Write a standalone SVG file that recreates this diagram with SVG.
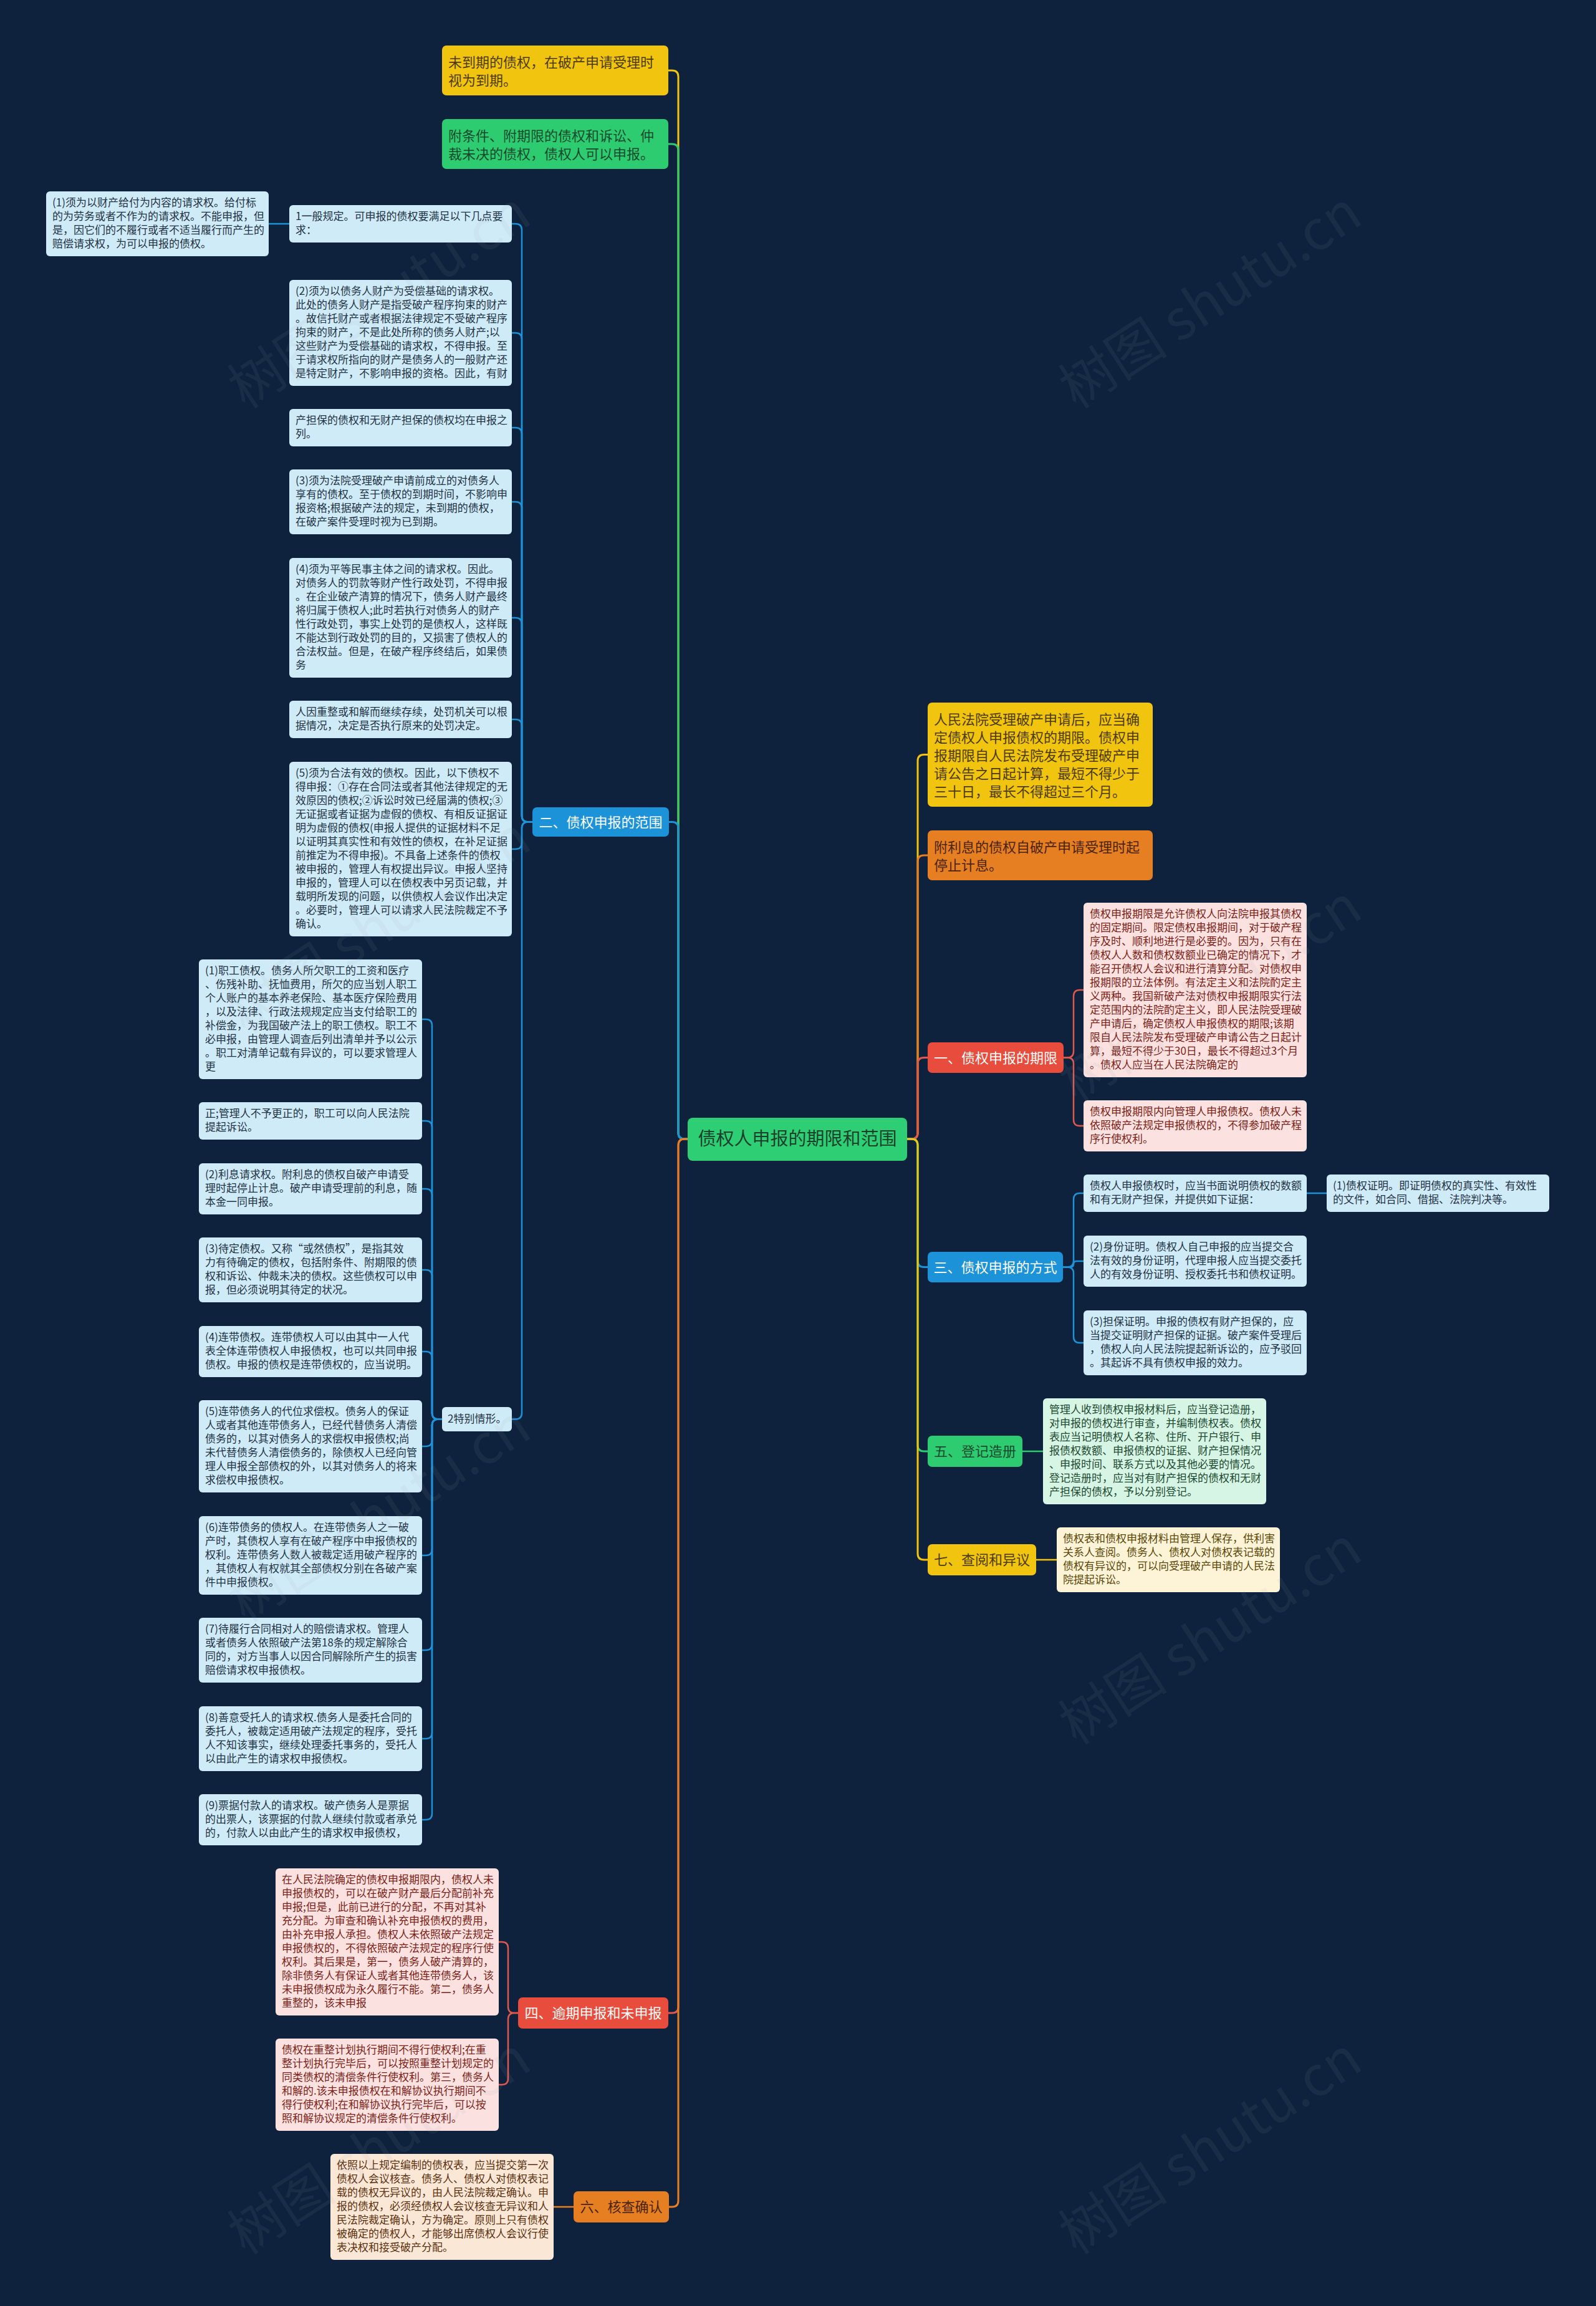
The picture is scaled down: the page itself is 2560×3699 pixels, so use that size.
<svg xmlns="http://www.w3.org/2000/svg" width="2560" height="3699" viewBox="0 0 2560 3699">
<style>
text{font-family:"Noto Sans CJK SC","Noto Sans",sans-serif}
.t17{font-size:17px}
.t22{font-size:22px}
.c{fill:none;stroke-width:3;stroke-linecap:round;stroke-linejoin:round}
.s{fill:none;stroke-width:2.5;stroke-linecap:round;stroke-linejoin:round}
.cy{stroke:#f1c40f}.cg{stroke:#2ecc71}.cb{stroke:#1c93d8}.cr{stroke:#e0584b}.co{stroke:#e67e22}
.lb{fill:#d0ebf8}.tb{fill:#1f3344}
.lp{fill:#fbe2e0}.tp{fill:#7b1f18}
.lm{fill:#d7f5e5}.tm{fill:#1d4a31}
.lc{fill:#fdf3d7}.tc{fill:#5a4708}
.le{fill:#fbe7d6}.te{fill:#5b3210}
.ny{fill:#f1c40f}.tny{fill:#4d3b06}
.ng{fill:#2ecc71}.tng{fill:#174a2c}
.nb{fill:#1c93d8}.nr{fill:#e74c3c}.tw{fill:#ffffff}
.no{fill:#e67e22}.tno{fill:#4a2408}
.wm{font-size:88px;fill:#9aa3ad;fill-opacity:0.09}
</style>
<rect width="2560" height="3699" fill="#0e213d"/>

<g id="connectors">
<path class="c cy" d="M1103,1827 H1098 Q1088,1827 1088,1817 V123 Q1088,113 1078,113 H1072"/>
<path class="c cg" d="M1103,1827 H1098 Q1088,1827 1088,1817 V241 Q1088,231 1078,231 H1072"/>
<path class="c cb" d="M1103,1827 H1098 Q1088,1827 1088,1817 V1328.5 Q1088,1318.5 1078,1318.5 H1073"/>
<path class="c cr" d="M1103,1827 H1098 Q1088,1827 1088,1837 V3219 Q1088,3229 1078,3229 H1072"/>
<path class="c co" d="M1103,1827 H1098 Q1088,1827 1088,1837 V3530 Q1088,3540 1078,3540 H1073"/>

<path class="c cy" d="M1455,1827 H1462 Q1472,1827 1472,1817 V1220.5 Q1472,1210.5 1482,1210.5 H1488"/>
<path class="c co" d="M1455,1827 H1462 Q1472,1827 1472,1817 V1382 Q1472,1372 1482,1372 H1488"/>
<path class="c cr" d="M1455,1827 H1462 Q1472,1827 1472,1817 V1706.5 Q1472,1696.5 1482,1696.5 H1488"/>
<path class="c cb" d="M1455,1827 H1462 Q1472,1827 1472,1837 V2022.5 Q1472,2032.5 1482,2032.5 H1488"/>
<path class="c cg" d="M1455,1827 H1462 Q1472,1827 1472,1837 V2318 Q1472,2328 1482,2328 H1488"/>
<path class="c cy" d="M1455,1827 H1462 Q1472,1827 1472,1837 V2492 Q1472,2502 1482,2502 H1488"/>

<path class="s cb" d="M854,1318.5 H847 Q837,1318.5 837,1308.5 V369 Q837,359 827,359 H821"/>
<path class="s cb" d="M854,1318.5 H847 Q837,1318.5 837,1308.5 V544 Q837,534 827,534 H821"/>
<path class="s cb" d="M854,1318.5 H847 Q837,1318.5 837,1308.5 V696 Q837,686 827,686 H821"/>
<path class="s cb" d="M854,1318.5 H847 Q837,1318.5 837,1308.5 V815 Q837,805 827,805 H821"/>
<path class="s cb" d="M854,1318.5 H847 Q837,1318.5 837,1308.5 V1001 Q837,991 827,991 H821"/>
<path class="s cb" d="M854,1318.5 H847 Q837,1318.5 837,1308.5 V1164 Q837,1154 827,1154 H821"/>
<path class="s cb" d="M854,1318.5 H847 Q837,1318.5 837,1328.5 V1352 Q837,1362 827,1362 H821"/>
<path class="s cb" d="M854,1318.5 H847 Q837,1318.5 837,1328.5 V2266.5 Q837,2276.5 827,2276.5 H821"/>
<path class="s cb" d="M464,359 H431"/>

<path class="s cb" d="M709,2276.5 H703 Q693,2276.5 693,2266.5 V1645 Q693,1635 683,1635 H677"/>
<path class="s cb" d="M709,2276.5 H703 Q693,2276.5 693,2266.5 V1808 Q693,1798 683,1798 H677"/>
<path class="s cb" d="M709,2276.5 H703 Q693,2276.5 693,2266.5 V1917 Q693,1907 683,1907 H677"/>
<path class="s cb" d="M709,2276.5 H703 Q693,2276.5 693,2266.5 V2047 Q693,2037 683,2037 H677"/>
<path class="s cb" d="M709,2276.5 H703 Q693,2276.5 693,2266.5 V2178 Q693,2168 683,2168 H677"/>
<path class="s cb" d="M709,2276.5 H703 Q693,2276.5 693,2286.5 V2310 Q693,2320 683,2320 H677"/>
<path class="s cb" d="M709,2276.5 H703 Q693,2276.5 693,2286.5 V2485 Q693,2495 683,2495 H677"/>
<path class="s cb" d="M709,2276.5 H703 Q693,2276.5 693,2286.5 V2637 Q693,2647 683,2647 H677"/>
<path class="s cb" d="M709,2276.5 H703 Q693,2276.5 693,2286.5 V2779 Q693,2789 683,2789 H677"/>
<path class="s cb" d="M709,2276.5 H703 Q693,2276.5 693,2286.5 V2909 Q693,2919 683,2919 H677"/>

<path class="s cr" d="M831,3229 H825 Q815,3229 815,3219 V3125 Q815,3115 805,3115 H800"/>
<path class="s cr" d="M831,3229 H825 Q815,3229 815,3239 V3334 Q815,3344 805,3344 H800"/>
<path class="s co" d="M920,3540 H888"/>

<path class="s cr" d="M1706,1696.5 H1712 Q1722,1696.5 1722,1686.5 V1598 Q1722,1588 1732,1588 H1738"/>
<path class="s cr" d="M1706,1696.5 H1712 Q1722,1696.5 1722,1706.5 V1796 Q1722,1806 1732,1806 H1738"/>

<path class="s cb" d="M1705,2032.5 H1712 Q1722,2032.5 1722,2022.5 V1924 Q1722,1914 1732,1914 H1738"/>
<path class="s cb" d="M1705,2032.5 H1717 Q1722,2032.5 1722,2027.5 Q1722,2023 1727,2023 H1738"/>
<path class="s cb" d="M1705,2032.5 H1712 Q1722,2032.5 1722,2042.5 V2144 Q1722,2154 1732,2154 H1738"/>
<path class="s cb" d="M2096,1914 H2128"/>
<path class="s cg" d="M1640,2328 H1673"/>
<path class="s cy" d="M1662,2502 H1695"/>
</g>

<g id="root">
<rect x="1103" y="1793" width="352" height="69" rx="8" fill="#2ecf74"/>
<text x="1279" y="1837" font-size="29" fill="#1b3f2b" text-anchor="middle">债权人申报的期限和范围</text>
</g>

<g id="n-top-yellow">
<rect class="ny" x="709" y="73" width="363" height="80" rx="7"/>
<text class="t22 tny"><tspan x="719" y="108">未到期的债权，在破产申请受理时</tspan><tspan x="719" y="137">视为到期。</tspan></text>
</g>
<g id="n-top-green">
<rect class="ng" x="709" y="191" width="363" height="80" rx="7"/>
<text class="t22 tng"><tspan x="719" y="226">附条件、附期限的债权和诉讼、仲</tspan><tspan x="719" y="255">裁未决的债权，债权人可以申报。</tspan></text>
</g>

<g id="n-er">
<rect class="nb" x="854" y="1295" width="219" height="47" rx="7"/>
<text class="t22 tw" x="963.5" y="1326.5" text-anchor="middle">二、债权申报的范围</text>
</g>
<g id="n-si">
<rect class="nr" x="831" y="3204" width="241" height="50" rx="7"/>
<text class="t22 tw" x="951.5" y="3237" text-anchor="middle">四、逾期申报和未申报</text>
</g>
<g id="n-liu">
<rect class="no" x="920" y="3515" width="153" height="50" rx="7"/>
<text class="t22 tno" x="996.5" y="3548" text-anchor="middle">六、核查确认</text>
</g>

<g id="n-general">
<rect class="lb" x="464" y="329" width="357" height="60" rx="6"/>
<text class="t17 tb"><tspan x="474" y="353">1一般规定。可申报的债权要满足以下几点要</tspan><tspan x="474" y="375">求：</tspan></text>
</g>
<g id="n-g1">
<rect class="lb" x="74" y="307" width="357" height="104" rx="6"/>
<text class="t17 tb"><tspan x="84" y="331">(1)须为以财产给付为内容的请求权。给付标</tspan><tspan x="84" y="353">的为劳务或者不作为的请求权。不能申报，但</tspan><tspan x="84" y="375">是，因它们的不履行或者不适当履行而产生的</tspan><tspan x="84" y="397">赔偿请求权，为可以申报的债权。</tspan></text>
</g>
<g id="n-g2">
<rect class="lb" x="464" y="449" width="357" height="170" rx="6"/>
<text class="t17 tb"><tspan x="474" y="473">(2)须为以债务人财产为受偿基础的请求权。</tspan><tspan x="474" y="495">此处的债务人财产是指受破产程序拘束的财产</tspan><tspan x="474" y="517">。故信托财产或者根据法律规定不受破产程序</tspan><tspan x="474" y="539">拘束的财产，不是此处所称的债务人财产;以</tspan><tspan x="474" y="561">这些财产为受偿基础的请求权，不得申报。至</tspan><tspan x="474" y="583">于请求权所指向的财产是债务人的一般财产还</tspan><tspan x="474" y="605">是特定财产，不影响申报的资格。因此，有财</tspan></text>
</g>
<g id="n-g2b">
<rect class="lb" x="464" y="656" width="357" height="60" rx="6"/>
<text class="t17 tb"><tspan x="474" y="680">产担保的债权和无财产担保的债权均在申报之</tspan><tspan x="474" y="702">列。</tspan></text>
</g>
<g id="n-g3">
<rect class="lb" x="464" y="753" width="357" height="104" rx="6"/>
<text class="t17 tb"><tspan x="474" y="777">(3)须为法院受理破产申请前成立的对债务人</tspan><tspan x="474" y="799">享有的债权。至于债权的到期时间，不影响申</tspan><tspan x="474" y="821">报资格;根据破产法的规定，未到期的债权，</tspan><tspan x="474" y="843">在破产案件受理时视为已到期。</tspan></text>
</g>
<g id="n-g4">
<rect class="lb" x="464" y="895" width="357" height="192" rx="6"/>
<text class="t17 tb"><tspan x="474" y="919">(4)须为平等民事主体之间的请求权。因此。</tspan><tspan x="474" y="941">对债务人的罚款等财产性行政处罚，不得申报</tspan><tspan x="474" y="963">。在企业破产清算的情况下，债务人财产最终</tspan><tspan x="474" y="985">将归属于债权人;此时若执行对债务人的财产</tspan><tspan x="474" y="1007">性行政处罚，事实上处罚的是债权人，这样既</tspan><tspan x="474" y="1029">不能达到行政处罚的目的，又损害了债权人的</tspan><tspan x="474" y="1051">合法权益。但是，在破产程序终结后，如果债</tspan><tspan x="474" y="1073">务</tspan></text>
</g>
<g id="n-g4b">
<rect class="lb" x="464" y="1124" width="357" height="60" rx="6"/>
<text class="t17 tb"><tspan x="474" y="1148">人因重整或和解而继续存续，处罚机关可以根</tspan><tspan x="474" y="1170">据情况，决定是否执行原来的处罚决定。</tspan></text>
</g>
<g id="n-g5">
<rect class="lb" x="464" y="1222" width="357" height="280" rx="6"/>
<text class="t17 tb"><tspan x="474" y="1246">(5)须为合法有效的债权。因此，以下债权不</tspan><tspan x="474" y="1268">得申报：①存在合同法或者其他法律规定的无</tspan><tspan x="474" y="1290">效原因的债权;②诉讼时效已经届满的债权;③</tspan><tspan x="474" y="1312">无证据或者证据为虚假的债权、有相反证据证</tspan><tspan x="474" y="1334">明为虚假的债权(申报人提供的证据材料不足</tspan><tspan x="474" y="1356">以证明其真实性和有效性的债权，在补足证据</tspan><tspan x="474" y="1378">前推定为不得申报)。不具备上述条件的债权</tspan><tspan x="474" y="1400">被申报的，管理人有权提出异议。申报人坚持</tspan><tspan x="474" y="1422">申报的，管理人可以在债权表中另页记载，并</tspan><tspan x="474" y="1444">载明所发现的问题，以供债权人会议作出决定</tspan><tspan x="474" y="1466">。必要时，管理人可以请求人民法院裁定不予</tspan><tspan x="474" y="1488">确认。</tspan></text>
</g>

<g id="n-special">
<rect class="lb" x="709" y="2257" width="112" height="39" rx="6"/>
<text class="t17 tb" x="718" y="2282">2特别情形。</text>
</g>
<g id="n-s1">
<rect class="lb" x="319" y="1539" width="358" height="192" rx="6"/>
<text class="t17 tb"><tspan x="329" y="1563">(1)职工债权。债务人所欠职工的工资和医疗</tspan><tspan x="329" y="1585">、伤残补助、抚恤费用，所欠的应当划人职工</tspan><tspan x="329" y="1607">个人账户的基本养老保险、基本医疗保险费用</tspan><tspan x="329" y="1629">，以及法律、行政法规规定应当支付给职工的</tspan><tspan x="329" y="1651">补偿金，为我国破产法上的职工债权。职工不</tspan><tspan x="329" y="1673">必申报，由管理人调查后列出清单并予以公示</tspan><tspan x="329" y="1695">。职工对清单记载有异议的，可以要求管理人</tspan><tspan x="329" y="1717">更</tspan></text>
</g>
<g id="n-s1b">
<rect class="lb" x="319" y="1768" width="358" height="60" rx="6"/>
<text class="t17 tb"><tspan x="329" y="1792">正;管理人不予更正的，职工可以向人民法院</tspan><tspan x="329" y="1814">提起诉讼。</tspan></text>
</g>
<g id="n-s2">
<rect class="lb" x="319" y="1866" width="358" height="82" rx="6"/>
<text class="t17 tb"><tspan x="329" y="1890">(2)利息请求权。附利息的债权自破产申请受</tspan><tspan x="329" y="1912">理时起停止计息。破产申请受理前的利息，随</tspan><tspan x="329" y="1934">本金一同申报。</tspan></text>
</g>
<g id="n-s3">
<rect class="lb" x="319" y="1985" width="358" height="104" rx="6"/>
<text class="t17 tb"><tspan x="329" y="2009">(3)待定债权。又称“或然债权”，是指其效</tspan><tspan x="329" y="2031">力有待确定的债权，包括附条件、附期限的债</tspan><tspan x="329" y="2053">权和诉讼、仲裁未决的债权。这些债权可以申</tspan><tspan x="329" y="2075">报，但必须说明其待定的状况。</tspan></text>
</g>
<g id="n-s4">
<rect class="lb" x="319" y="2127" width="358" height="82" rx="6"/>
<text class="t17 tb"><tspan x="329" y="2151">(4)连带债权。连带债权人可以由其中一人代</tspan><tspan x="329" y="2173">表全体连带债权人申报债权，也可以共同申报</tspan><tspan x="329" y="2195">债权。申报的债权是连带债权的，应当说明。</tspan></text>
</g>
<g id="n-s5">
<rect class="lb" x="319" y="2246" width="358" height="148" rx="6"/>
<text class="t17 tb"><tspan x="329" y="2270">(5)连带债务人的代位求偿权。债务人的保证</tspan><tspan x="329" y="2292">人或者其他连带债务人，已经代替债务人清偿</tspan><tspan x="329" y="2314">债务的，以其对债务人的求偿权申报债权;尚</tspan><tspan x="329" y="2336">未代替债务人清偿债务的，除债权人已经向管</tspan><tspan x="329" y="2358">理人申报全部债权的外，以其对债务人的将来</tspan><tspan x="329" y="2380">求偿权申报债权。</tspan></text>
</g>
<g id="n-s6">
<rect class="lb" x="319" y="2432" width="358" height="126" rx="6"/>
<text class="t17 tb"><tspan x="329" y="2456">(6)连带债务的债权人。在连带债务人之一破</tspan><tspan x="329" y="2478">产时，其债权人享有在破产程序中申报债权的</tspan><tspan x="329" y="2500">权利。连带债务人数人被裁定适用破产程序的</tspan><tspan x="329" y="2522">，其债权人有权就其全部债权分别在各破产案</tspan><tspan x="329" y="2544">件中申报债权。</tspan></text>
</g>
<g id="n-s7">
<rect class="lb" x="319" y="2595" width="358" height="104" rx="6"/>
<text class="t17 tb"><tspan x="329" y="2619">(7)待履行合同相对人的赔偿请求权。管理人</tspan><tspan x="329" y="2641">或者债务人依照破产法第18条的规定解除合</tspan><tspan x="329" y="2663">同的，对方当事人以因合同解除所产生的损害</tspan><tspan x="329" y="2685">赔偿请求权申报债权。</tspan></text>
</g>
<g id="n-s8">
<rect class="lb" x="319" y="2737" width="358" height="104" rx="6"/>
<text class="t17 tb"><tspan x="329" y="2761">(8)善意受托人的请求权.债务人是委托合同的</tspan><tspan x="329" y="2783">委托人，被裁定适用破产法规定的程序，受托</tspan><tspan x="329" y="2805">人不知该事实，继续处理委托事务的，受托人</tspan><tspan x="329" y="2827">以由此产生的请求权申报债权。</tspan></text>
</g>
<g id="n-s9">
<rect class="lb" x="319" y="2878" width="358" height="82" rx="6"/>
<text class="t17 tb"><tspan x="329" y="2902">(9)票据付款人的请求权。破产债务人是票据</tspan><tspan x="329" y="2924">的出票人，该票据的付款人继续付款或者承兑</tspan><tspan x="329" y="2946">的，付款人以由此产生的请求权申报债权，</tspan></text>
</g>

<g id="n-late1">
<rect class="lp" x="442" y="2997" width="358" height="236" rx="6"/>
<text class="t17 tp"><tspan x="452" y="3021">在人民法院确定的债权申报期限内，债权人未</tspan><tspan x="452" y="3043">申报债权的，可以在破产财产最后分配前补充</tspan><tspan x="452" y="3065">申报;但是，此前已进行的分配，不再对其补</tspan><tspan x="452" y="3087">充分配。为审查和确认补充申报债权的费用，</tspan><tspan x="452" y="3109">由补充申报人承担。债权人未依照破产法规定</tspan><tspan x="452" y="3131">申报债权的，不得依照破产法规定的程序行使</tspan><tspan x="452" y="3153">权利。其后果是，第一，债务人破产清算的，</tspan><tspan x="452" y="3175">除非债务人有保证人或者其他连带债务人，该</tspan><tspan x="452" y="3197">未申报债权成为永久履行不能。第二，债务人</tspan><tspan x="452" y="3219">重整的，该未申报</tspan></text>
</g>
<g id="n-late2">
<rect class="lp" x="442" y="3270" width="358" height="148" rx="6"/>
<text class="t17 tp"><tspan x="452" y="3294">债权在重整计划执行期间不得行使权利;在重</tspan><tspan x="452" y="3316">整计划执行完毕后，可以按照重整计划规定的</tspan><tspan x="452" y="3338">同类债权的清偿条件行使权利。第三，债务人</tspan><tspan x="452" y="3360">和解的.该未申报债权在和解协议执行期间不</tspan><tspan x="452" y="3382">得行使权利;在和解协议执行完毕后，可以按</tspan><tspan x="452" y="3404">照和解协议规定的清偿条件行使权利。</tspan></text>
</g>
<g id="n-check">
<rect class="le" x="530" y="3455" width="358" height="170" rx="6"/>
<text class="t17 te"><tspan x="540" y="3479">依照以上规定编制的债权表，应当提交第一次</tspan><tspan x="540" y="3501">债权人会议核查。债务人、债权人对债权表记</tspan><tspan x="540" y="3523">载的债权无异议的，由人民法院裁定确认。申</tspan><tspan x="540" y="3545">报的债权，必须经债权人会议核查无异议和人</tspan><tspan x="540" y="3567">民法院裁定确认，方为确定。原则上只有债权</tspan><tspan x="540" y="3589">被确定的债权人，才能够出席债权人会议行使</tspan><tspan x="540" y="3611">表决权和接受破产分配。</tspan></text>
</g>

<g id="n-r-yellow">
<rect class="ny" x="1488" y="1127" width="361" height="167" rx="7"/>
<text class="t22 tny"><tspan x="1498" y="1162">人民法院受理破产申请后，应当确</tspan><tspan x="1498" y="1191">定债权人申报债权的期限。债权申</tspan><tspan x="1498" y="1220">报期限自人民法院发布受理破产申</tspan><tspan x="1498" y="1249">请公告之日起计算，最短不得少于</tspan><tspan x="1498" y="1278">三十日，最长不得超过三个月。</tspan></text>
</g>
<g id="n-r-orange">
<rect class="no" x="1488" y="1332" width="361" height="80" rx="7"/>
<text class="t22 tno"><tspan x="1498" y="1367">附利息的债权自破产申请受理时起</tspan><tspan x="1498" y="1396">停止计息。</tspan></text>
</g>
<g id="n-yi">
<rect class="nr" x="1488" y="1672" width="218" height="49" rx="7"/>
<text class="t22 tw" x="1597" y="1704.5" text-anchor="middle">一、债权申报的期限</text>
</g>
<g id="n-yi1">
<rect class="lp" x="1738" y="1448" width="358" height="280" rx="6"/>
<text class="t17 tp"><tspan x="1748" y="1472">债权申报期限是允许债权人向法院申报其债权</tspan><tspan x="1748" y="1494">的固定期间。限定债权串报期间，对于破产程</tspan><tspan x="1748" y="1516">序及时、顺利地进行是必要的。因为，只有在</tspan><tspan x="1748" y="1538">债权人人数和债权数额业已确定的情况下，才</tspan><tspan x="1748" y="1560">能召开债权人会议和进行清算分配。对债权申</tspan><tspan x="1748" y="1582">报期限的立法体例。有法定主义和法院酌定主</tspan><tspan x="1748" y="1604">义两种。我国新破产法对债权申报期限实行法</tspan><tspan x="1748" y="1626">定范围内的法院酌定主义，即人民法院受理破</tspan><tspan x="1748" y="1648">产申请后，确定债权人申报债权的期限;该期</tspan><tspan x="1748" y="1670">限自人民法院发布受理破产申请公告之日起计</tspan><tspan x="1748" y="1692">算，最短不得少于30日，最长不得超过3个月</tspan><tspan x="1748" y="1714">。债权人应当在人民法院确定的</tspan></text>
</g>
<g id="n-yi2">
<rect class="lp" x="1738" y="1765" width="358" height="82" rx="6"/>
<text class="t17 tp"><tspan x="1748" y="1789">债权申报期限内向管理人申报债权。债权人未</tspan><tspan x="1748" y="1811">依照破产法规定申报债权的，不得参加破产程</tspan><tspan x="1748" y="1833">序行使权利。</tspan></text>
</g>

<g id="n-san">
<rect class="nb" x="1488" y="2008" width="217" height="49" rx="7"/>
<text class="t22 tw" x="1596.5" y="2040.5" text-anchor="middle">三、债权申报的方式</text>
</g>
<g id="n-san1">
<rect class="lb" x="1738" y="1884" width="358" height="60" rx="6"/>
<text class="t17 tb"><tspan x="1748" y="1908">债权人申报债权时，应当书面说明债权的数额</tspan><tspan x="1748" y="1930">和有无财产担保，并提供如下证据：</tspan></text>
</g>
<g id="n-san1a">
<rect class="lb" x="2128" y="1884" width="357" height="60" rx="6"/>
<text class="t17 tb"><tspan x="2138" y="1908">(1)债权证明。即证明债权的真实性、有效性</tspan><tspan x="2138" y="1930">的文件，如合同、借据、法院判决等。</tspan></text>
</g>
<g id="n-san2">
<rect class="lb" x="1738" y="1982" width="358" height="82" rx="6"/>
<text class="t17 tb"><tspan x="1748" y="2006">(2)身份证明。债权人自己申报的应当提交合</tspan><tspan x="1748" y="2028">法有效的身份证明，代理申报人应当提交委托</tspan><tspan x="1748" y="2050">人的有效身份证明、授权委托书和债权证明。</tspan></text>
</g>
<g id="n-san3">
<rect class="lb" x="1738" y="2102" width="358" height="104" rx="6"/>
<text class="t17 tb"><tspan x="1748" y="2126">(3)担保证明。申报的债权有财产担保的，应</tspan><tspan x="1748" y="2148">当提交证明财产担保的证据。破产案件受理后</tspan><tspan x="1748" y="2170">，债权人向人民法院提起新诉讼的，应予驳回</tspan><tspan x="1748" y="2192">。其起诉不具有债权申报的效力。</tspan></text>
</g>

<g id="n-wu">
<rect class="ng" x="1488" y="2303" width="152" height="50" rx="7"/>
<text class="t22 tng" x="1564" y="2336" text-anchor="middle">五、登记造册</text>
</g>
<g id="n-wu1">
<rect class="lm" x="1673" y="2243" width="358" height="170" rx="6"/>
<text class="t17 tm"><tspan x="1683" y="2267">管理人收到债权申报材料后，应当登记造册，</tspan><tspan x="1683" y="2289">对申报的债权进行审查，并编制债权表。债权</tspan><tspan x="1683" y="2311">表应当记明债权人名称、住所、开户银行、申</tspan><tspan x="1683" y="2333">报债权数额、申报债权的证据、财产担保情况</tspan><tspan x="1683" y="2355">、申报时间、联系方式以及其他必要的情况。</tspan><tspan x="1683" y="2377">登记造册时，应当对有财产担保的债权和无财</tspan><tspan x="1683" y="2399">产担保的债权，予以分别登记。</tspan></text>
</g>
<g id="n-qi">
<rect class="ny" x="1488" y="2477" width="174" height="50" rx="7"/>
<text class="t22 tny" x="1575" y="2510" text-anchor="middle">七、查阅和异议</text>
</g>
<g id="n-qi1">
<rect class="lc" x="1695" y="2450" width="358" height="104" rx="6"/>
<text class="t17 tc"><tspan x="1705" y="2474">债权表和债权申报材料由管理人保存，供利害</tspan><tspan x="1705" y="2496">关系人查阅。债务人、债权人对债权表记载的</tspan><tspan x="1705" y="2518">债权有异议的，可以向受理破产申请的人民法</tspan><tspan x="1705" y="2540">院提起诉讼。</tspan></text>
</g>

<g id="watermarks">
<text class="wm" transform="translate(625,507) rotate(-33)" text-anchor="middle">树图 shutu.cn</text>
<text class="wm" transform="translate(1958,507) rotate(-33)" text-anchor="middle">树图 shutu.cn</text>
<text class="wm" transform="translate(625,1510) rotate(-33)" text-anchor="middle">树图 shutu.cn</text>
<text class="wm" transform="translate(1958,1620) rotate(-33)" text-anchor="middle">树图 shutu.cn</text>
<text class="wm" transform="translate(625,2454) rotate(-33)" text-anchor="middle">树图 shutu.cn</text>
<text class="wm" transform="translate(1958,2650) rotate(-33)" text-anchor="middle">树图 shutu.cn</text>
<text class="wm" transform="translate(625,3468) rotate(-33)" text-anchor="middle">树图 shutu.cn</text>
<text class="wm" transform="translate(1958,3468) rotate(-33)" text-anchor="middle">树图 shutu.cn</text>
</g>
</svg>
